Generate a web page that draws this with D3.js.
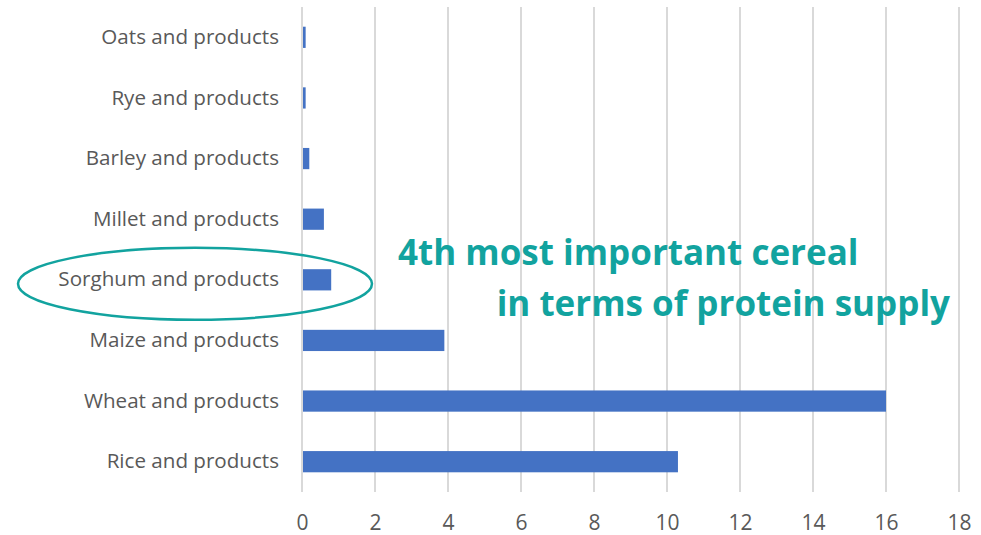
<!DOCTYPE html>
<html>
<head>
<meta charset="utf-8">
<script src="https://cdn.jsdelivr.net/npm/d3@7"></script>
<style>
  html, body { margin: 0; padding: 0; background: #fff; }
  svg { display: block; }
</style>
</head>
<body>
<svg id="chart" width="981" height="535"></svg>
<script>
// Protein supply by cereal (g/capita/day)
const categories = [
  "Oats and products",
  "Rye and products",
  "Barley and products",
  "Millet and products",
  "Sorghum and products",
  "Maize and products",
  "Wheat and products",
  "Rice and products"
];
const proteinSupply = [0.1, 0.1, 0.2, 0.6, 0.8, 3.9, 16.0, 10.3];
const xTicks = [0, 2, 4, 6, 8, 10, 12, 14, 16, 18];
const highlighted = "Sorghum and products";
const noteLines = ["4th most important cereal", "in terms of protein supply"];

const font = "'Open Sans', 'Liberation Sans', sans-serif";
const teal = "#12a39f";

const svg = d3.select("#chart");
const margin = { left: 302, right: 22, top: 7, bottom: 43 };
const W = 981, H = 535;

const x = d3.scaleLinear().domain([0, 18]).range([margin.left, W - margin.right]);
const y = d3.scaleBand().domain(categories).range([margin.top, H - margin.bottom]).paddingInner(0.65).paddingOuter(0.325);

// vertical gridlines
svg.append("g")
  .selectAll("line")
  .data(xTicks)
  .join("line")
  .attr("x1", d => x(d)).attr("x2", d => x(d))
  .attr("y1", margin.top).attr("y2", H - margin.bottom)
  .attr("stroke", "#d9d9d9")
  .attr("stroke-width", 2);

// bars
svg.append("g")
  .selectAll("rect")
  .data(categories.map((c, i) => ({ c, v: proteinSupply[i] })))
  .join("rect")
  .attr("x", x(0) + 1)
  .attr("y", d => y(d.c))
  .attr("width", d => x(d.v) - x(0) - 1)
  .attr("height", y.bandwidth())
  .attr("fill", "#4472c4");

// x axis labels
const xAxis = d3.axisBottom(x).tickValues(xTicks).tickSize(0).tickPadding(0);
const gx = svg.append("g")
  .attr("transform", `translate(0,${H - margin.bottom})`)
  .call(xAxis);
gx.select(".domain").remove();
gx.selectAll("text")
  .attr("dy", null)
  .attr("y", 38)
  .attr("font-family", font)
  .attr("font-size", 21)
  .attr("fill", "#595959");

// category labels
const yAxis = d3.axisLeft(y).tickSize(0).tickPadding(23);
const gy = svg.append("g")
  .attr("transform", `translate(${x(0)},0)`)
  .call(yAxis);
gy.select(".domain").remove();
gy.selectAll("text")
  .attr("font-family", font)
  .attr("font-size", 20.6)
  .attr("fill", "#595959");

// highlight ellipse
svg.append("ellipse")
  .attr("cx", 195)
  .attr("cy", y(highlighted) + y.bandwidth() / 2 + 4)
  .attr("rx", 177)
  .attr("ry", 36)
  .attr("fill", "none")
  .attr("stroke", teal)
  .attr("stroke-width", 2.5);

// annotation
const note = svg.append("g")
  .attr("font-family", font)
  .attr("font-weight", "bold")
  .attr("font-size", 35)
  .attr("fill", teal);
note.append("text").attr("x", 398).attr("y", 265).text(noteLines[0]);
note.append("text").attr("x", 950).attr("y", 316).attr("text-anchor", "end").text(noteLines[1]);
</script>
</body>
</html>
